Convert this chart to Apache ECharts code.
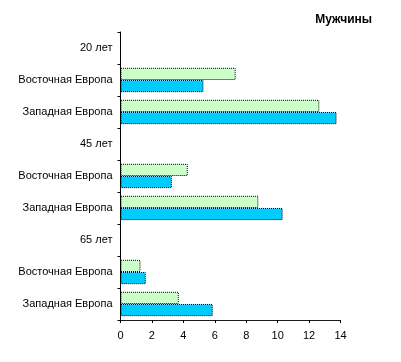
<!DOCTYPE html>
<html><head><meta charset="utf-8">
<script src="https://cdn.jsdelivr.net/npm/echarts@6/dist/echarts.min.js"></script>
<style>html,body{margin:0;padding:0;background:#fff}#c{width:401px;height:362px}</style>
</head><body><div id="c"></div>
<script>
const categories = ["20 лет","Восточная Европа","Западная Европа","45 лет","Восточная Европа","Западная Европа","65 лет","Восточная Европа","Западная Европа"];
const seriesGreen = [null, 7.33, 12.65, null, 4.28, 8.77, null, 1.27, 3.71];
const seriesBlue  = [null, 5.28, 13.75, null, 3.27, 10.32, null, 1.61, 5.87];
const xTicks = [0, 2, 4, 6, 8, 10, 12, 14];
const title = "Мужчины";

const chart = echarts.init(document.getElementById('c'), null, {renderer:'canvas'});
const font = 'Liberation Sans, Arial, sans-serif';
const barStyle = (c) => ({color: c, borderColor: '#000', borderWidth: 1, borderType: [1, 1]});
chart.setOption({
  animation: false,
  title: {text: title, right: 24, top: 9, textStyle: {fontFamily: font, fontSize: 12, fontWeight: 'bold', color: '#000'}},
  grid: {left: 120.5, right: 60.5, top: 32, bottom: 42, containLabel: false},
  xAxis: {
    type: 'value', min: xTicks[0], max: xTicks[xTicks.length-1], interval: 2,
    axisLine: {show: true, lineStyle: {color: '#000', width: 1, type: [1, 1]}},
    axisTick: {show: true, length: 3, lineStyle: {color: '#000'}},
    splitLine: {show: false},
    axisLabel: {fontFamily: font, fontSize: 11, color: '#000', margin: 10}
  },
  yAxis: {
    type: 'category', data: categories, inverse: true,
    axisLine: {show: true, lineStyle: {color: '#000', width: 1}},
    axisTick: {show: true, length: 3, lineStyle: {color: '#000'}},
    axisLabel: {fontFamily: font, fontSize: 11, color: '#000', margin: 8}
  },
  series: [
    {type: 'bar', data: seriesGreen, itemStyle: barStyle('#CCFFCC'), barGap: '0%', barCategoryGap: '24%'},
    {type: 'bar', data: seriesBlue, itemStyle: barStyle('#00CCFF'), barGap: '0%', barCategoryGap: '24%'}
  ]
});
</script></body></html>
